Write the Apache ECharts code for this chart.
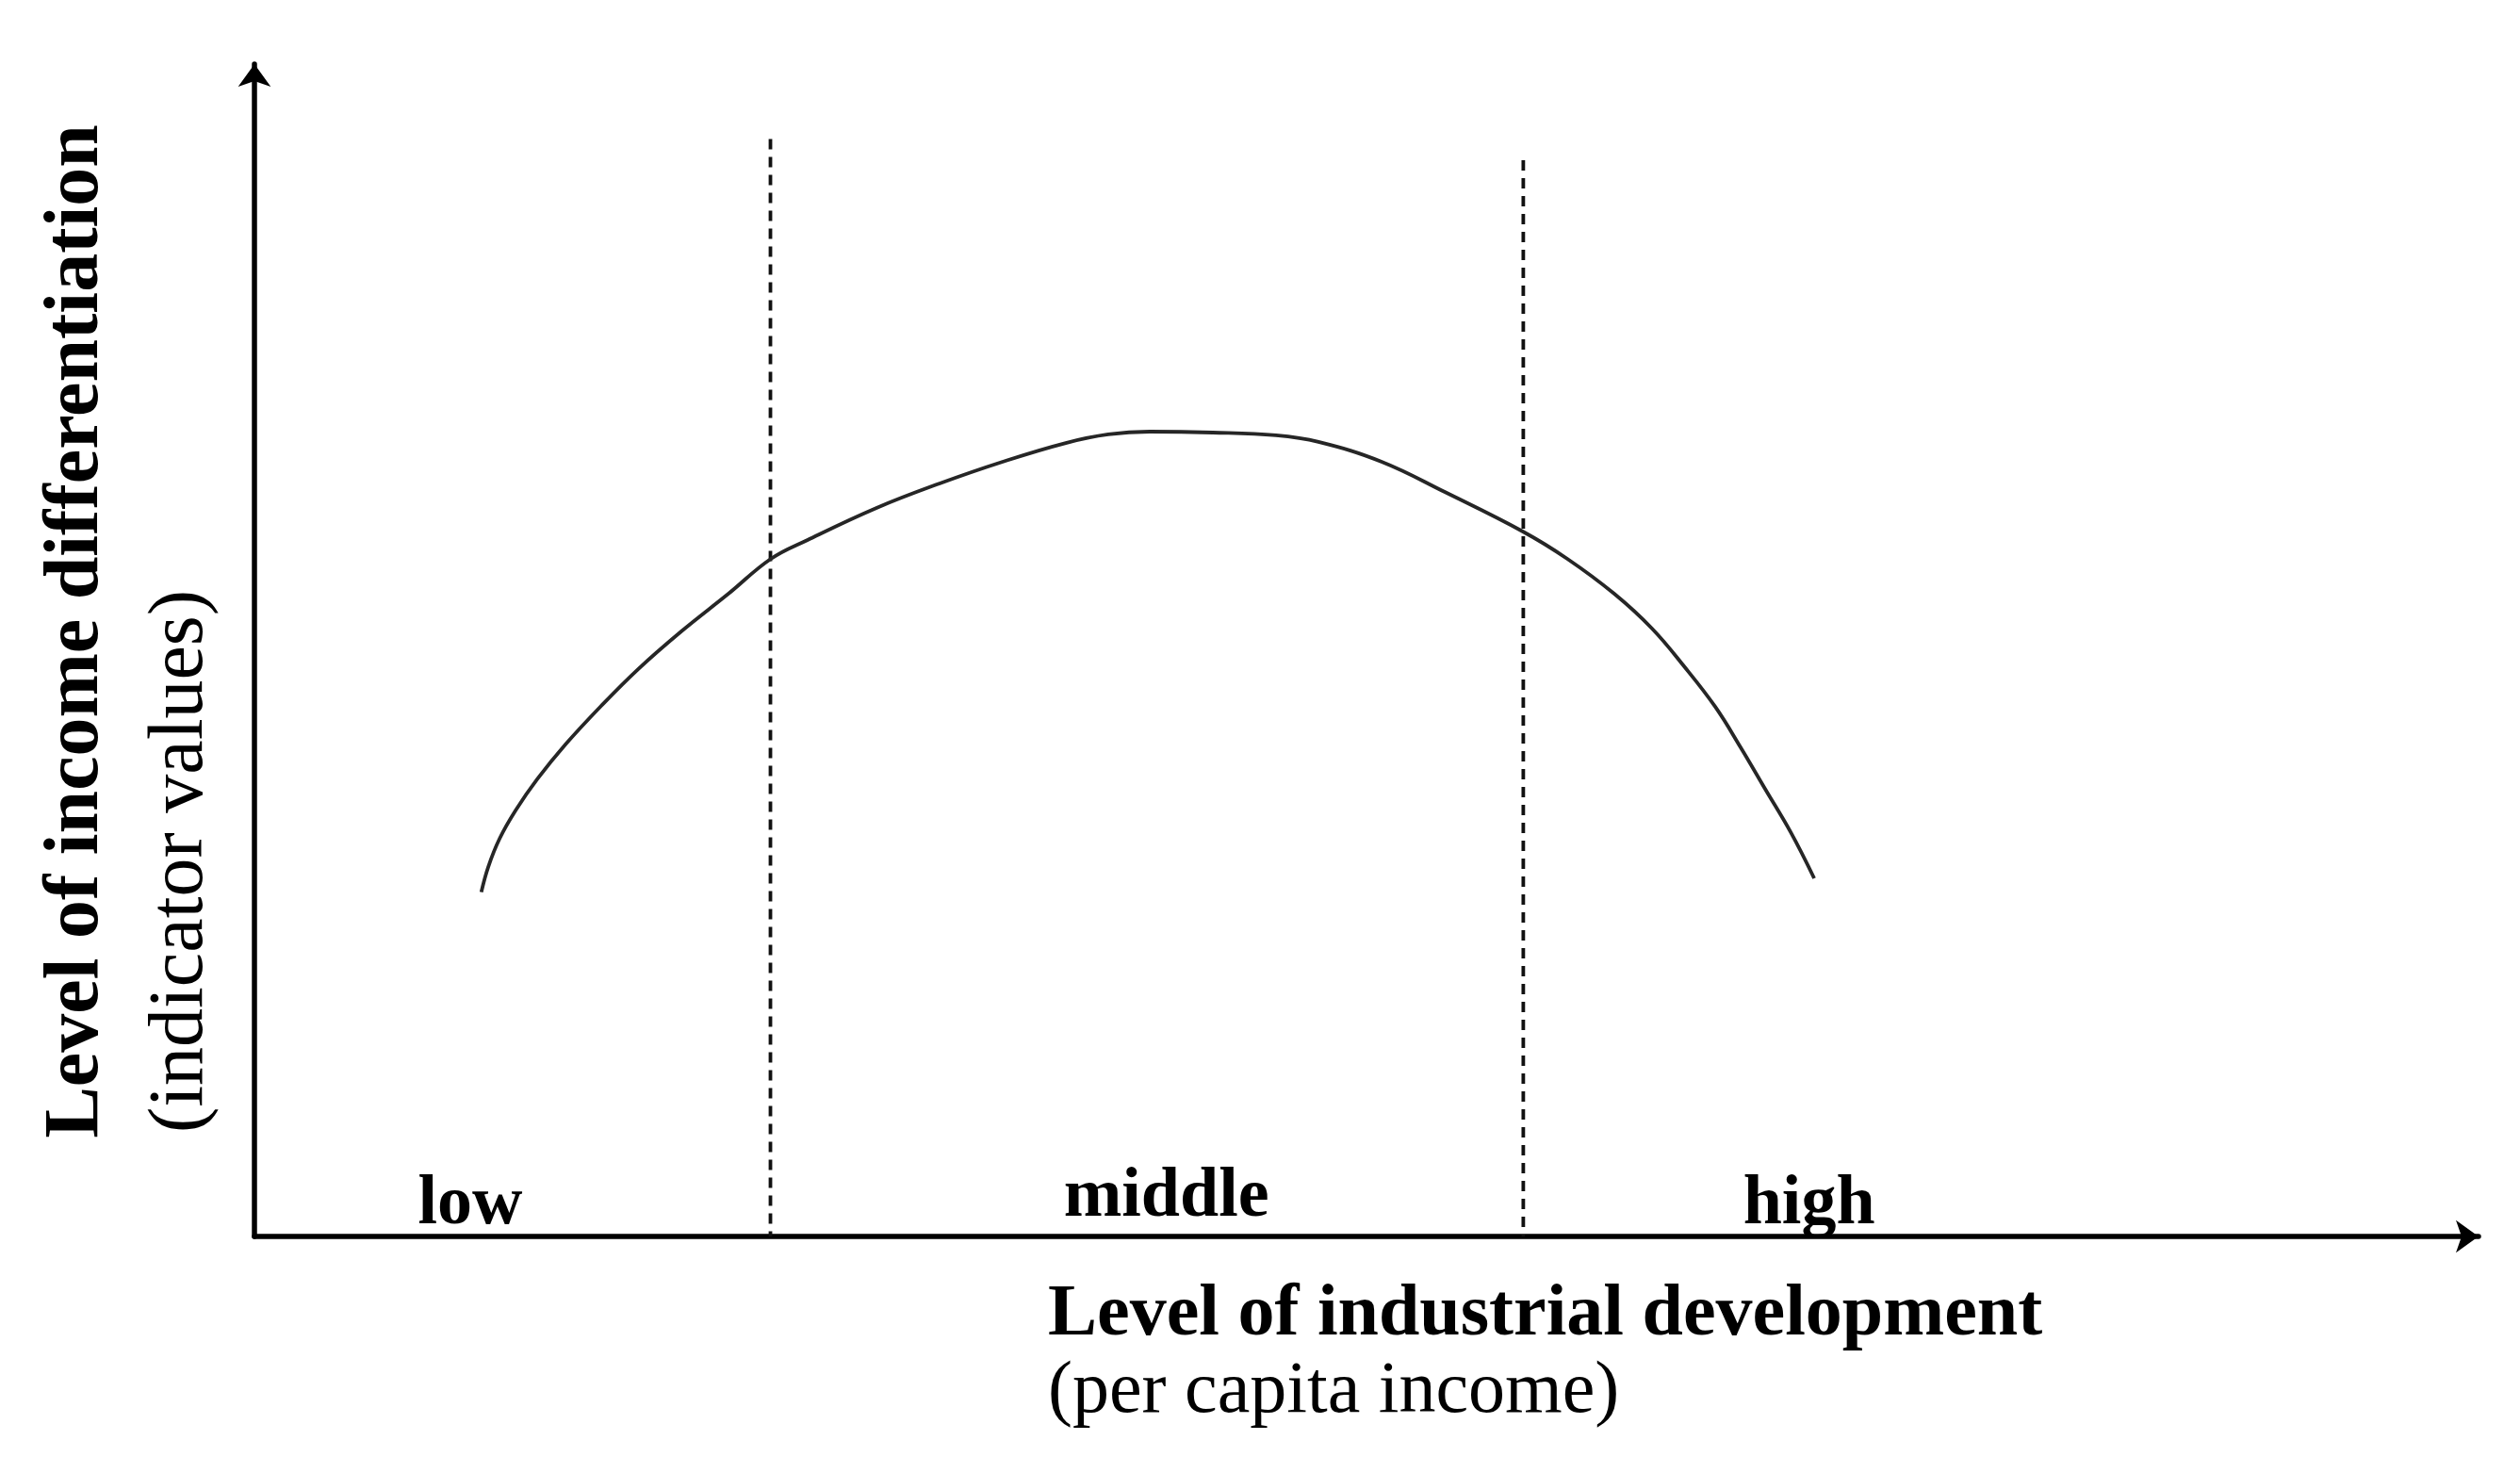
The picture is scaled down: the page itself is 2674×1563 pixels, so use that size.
<!DOCTYPE html>
<html>
<head>
<meta charset="utf-8">
<title>Income differentiation vs industrial development</title>
<script src="https://cdn.jsdelivr.net/npm/echarts@6/dist/echarts.min.js"></script>
<style>
  html, body { margin: 0; padding: 0; background: #fff; }
  #main { width: 2674px; height: 1563px; }
</style>
</head>
<body>
<div id="main"></div>
<script>
  // curve (x = development, y = differentiation, 0-100 scale)
  var curveX = [10.20, 10.51, 11.02, 11.74, 12.71, 13.98, 15.55, 17.25, 19.19, 21.31, 23.22, 24.87, 27.97, 30.81, 33.64, 36.48, 38.39, 40.25, 43.09, 45.93, 47.84, 50.68, 53.52, 57.03, 59.03, 61.14, 62.84, 64.28, 65.68, 66.82, 67.92, 69.07, 70.13];
  var curveY = [29.37, 31.51, 33.92, 36.33, 38.99, 41.96, 45.18, 48.39, 51.61, 54.82, 57.80, 59.41, 62.14, 64.23, 66.08, 67.68, 68.41, 68.65, 68.57, 68.33, 67.77, 66.08, 63.50, 60.13, 57.80, 54.82, 51.85, 48.63, 45.18, 41.72, 38.18, 34.49, 30.55];

  // stage boundaries (dashed verticals) and their top ends
  var boundaryX = [23.2, 57.05];
  var boundaryTop = [93.6, 91.8];

  // stage names along the x axis
  var stageNames = ['low', 'middle', 'high'];
  var stageX = [9.7, 41.0, 69.9];
  var stageY = [2.7, 3.3, 2.7];

  var yTitle = 'Level of income differentiation';
  var ySubTitle = '(indicator values)';
  var xTitle = 'Level of industrial development';
  var xSubTitle = '(per capita income)';

  var serif = '"Liberation Serif", "Times New Roman", serif';

  var chart = echarts.init(document.getElementById('main'));

  var curveData = curveX.map(function (x, i) { return [x, curveY[i]] })

  var series = [{
    type: 'line',
    data: curveData,
    smooth: 0.4,
    symbol: 'none',
    lineStyle: { color: '#262626', width: 3.8 },
    silent: true,
    z: 3
  }]

  // drawn top-down so the dash pattern starts at the upper end
  boundaryX.forEach(function (x, i) {
    series.push({
      type: 'line',
      data: [[x, boundaryTop[i]], [x, 0]],
      symbol: 'none',
      lineStyle: { color: '#111', width: 3.8, type: [11, 8] },
      silent: true,
      z: 2
    })
  })

  series.push({
    type: 'scatter',
    symbolSize: 0,
    itemStyle: { opacity: 1 },
    data: stageNames.map(function (n, i) { return { name: n, value: [stageX[i], stageY[i]] } }),
    label: {
      show: true,
      position: 'inside',
      formatter: '{b}',
      color: '#000',
      opacity: 1,
      fontFamily: serif,
      fontWeight: 'bold',
      fontSize: 74
    },
    silent: true,
    z: 4
  })

  chart.setOption({
    backgroundColor: '#fff',
    animation: false,
    grid: {
      left: 270,
      top: 68,
      right: 44,
      bottom: 251
    },
    xAxis: {
      type: 'value',
      min: 0,
      max: 100,
      axisLine: {
        onZero: false,
        lineStyle: { color: '#000', width: 5.5 },
        symbol: ['none', 'arrow'],
        symbolSize: [26, 24]
      },
      axisTick: { show: false },
      axisLabel: { show: false },
      splitLine: { show: false }
    },
    yAxis: {
      type: 'value',
      min: 0,
      max: 100,
      axisLine: {
        show: true,
        onZero: false,
        lineStyle: { color: '#000', width: 5.5 },
        symbol: ['none', 'arrow'],
        symbolSize: [26, 24]
      },
      axisTick: { show: false },
      axisLabel: { show: false },
      splitLine: { show: false }
    },
    graphic: [
      {
        type: 'text',
        x: 82,
        y: 670,
        rotation: Math.PI / 2,
        style: {
          text: yTitle,
          fill: '#000',
          font: 'bold 82px ' + serif,
          align: 'center',
          verticalAlign: 'middle'
        }
      },
      {
        type: 'text',
        x: 192,
        y: 914,
        rotation: Math.PI / 2,
        style: {
          text: ySubTitle,
          fill: '#000',
          font: '82px ' + serif,
          align: 'center',
          verticalAlign: 'middle'
        }
      },
      {
        type: 'text',
        x: 1112,
        y: 1396,
        style: {
          text: xTitle,
          fill: '#000',
          font: 'bold 78px ' + serif,
          align: 'left',
          verticalAlign: 'middle'
        }
      },
      {
        type: 'text',
        x: 1112,
        y: 1478,
        style: {
          text: xSubTitle,
          fill: '#000',
          font: '78px ' + serif,
          align: 'left',
          verticalAlign: 'middle'
        }
      }
    ],
    series: series
  })
</script>
</body>
</html>
